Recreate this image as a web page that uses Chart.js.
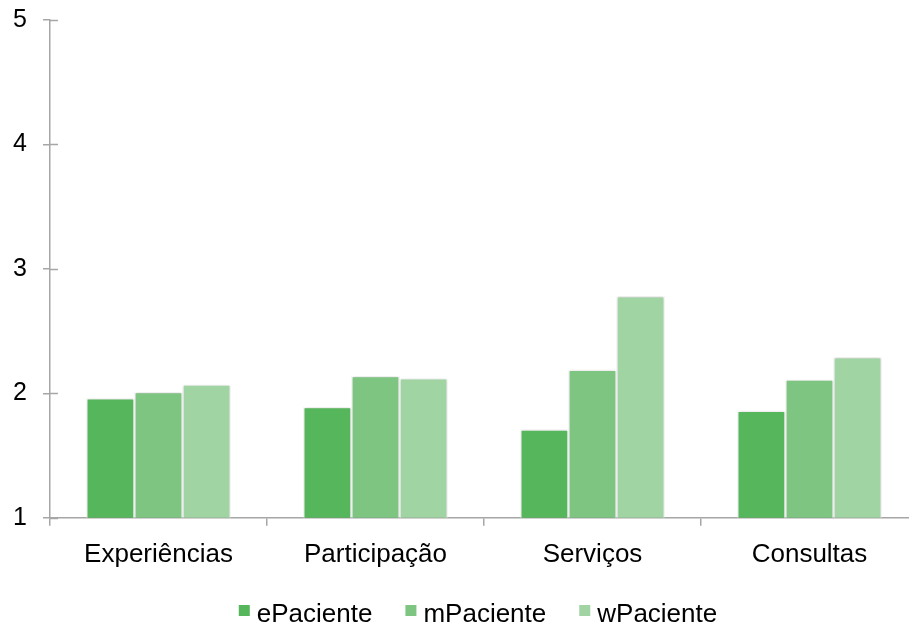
<!DOCTYPE html>
<html>
<head>
<meta charset="utf-8">
<script src="https://cdn.jsdelivr.net/npm/chart.js@4/dist/chart.umd.min.js"></script>
<style>
  html, body { margin: 0; padding: 0; background: #fff; overflow: hidden; }
  #wrap { position: relative; width: 920px; height: 635px; }
</style>
</head>
<body>
<div id="wrap"><canvas id="chart"></canvas></div>
<script>
// Mean scores per area, for each patient profile
const categories = ['Experiências', 'Participação', 'Serviços', 'Consultas'];
const seriesNames = ['ePaciente', 'mPaciente', 'wPaciente'];
const ePaciente = [1.96, 1.89, 1.71, 1.86];
const mPaciente = [2.01, 2.14, 2.19, 2.11];
const wPaciente = [2.07, 2.12, 2.78, 2.29];
const yTicks = [1, 2, 3, 4, 5];

const colors = ['#56b65b', '#7dc580', '#a0d4a2'];
const axisColor = '#a6a6a6';
const FONT = '"Liberation Sans", Arial, sans-serif';

// Soft shadow around the bars
const barShadow = {
  id: 'barShadow',
  beforeDatasetsDraw(chart) {
    const ctx = chart.ctx;
    ctx.save();
    ctx.shadowColor = 'rgba(0,0,0,0.28)';
    ctx.shadowBlur = 3;
    ctx.shadowOffsetX = 0;
    ctx.shadowOffsetY = 0;
  },
  afterDatasetsDraw(chart) {
    chart.ctx.restore();
  }
};

// Value-axis tick marks cross the axis line: draw the inner half
const crossTicks = {
  id: 'crossTicks',
  afterDraw(chart) {
    const y = chart.scales.y;
    const ctx = chart.ctx;
    ctx.save();
    ctx.strokeStyle = axisColor;
    ctx.lineWidth = 1.5;
    y.ticks.forEach(t => {
      const py = Math.round(y.getPixelForValue(t.value)) + 0.5;
      ctx.beginPath();
      ctx.moveTo(y.right, py);
      ctx.lineTo(y.right + 8, py);
      ctx.stroke();
    });
    ctx.restore();
  }
};

// Legend row under the category labels
const legendRow = {
  id: 'legendRow',
  afterDraw(chart) {
    const ctx = chart.ctx;
    const area = chart.chartArea;
    ctx.save();
    ctx.font = '26px ' + FONT;
    ctx.textBaseline = 'middle';
    const box = 11, gapBox = 7, gapItem = 33;
    const items = chart.data.datasets.map(ds => ({
      label: ds.label, color: ds.backgroundColor, w: ctx.measureText(ds.label).width
    }));
    const total = items.reduce((s, it) => s + box + gapBox + it.w, 0) + gapItem * (items.length - 1);
    let x = (area.left + area.right) / 2 - 6 - total / 2;
    const cy = 615;
    items.forEach(it => {
      ctx.fillStyle = it.color;
      ctx.fillRect(x, cy - 10, box, box);
      x += box + gapBox;
      ctx.fillStyle = '#000';
      ctx.fillText(it.label, x, cy);
      x += it.w + gapItem;
    });
    ctx.restore();
  }
};

const values = [ePaciente, mPaciente, wPaciente];

new Chart(document.getElementById('chart'), {
  type: 'bar',
  data: {
    labels: categories,
    datasets: seriesNames.map((name, i) => ({
      label: name,
      data: values[i],
      backgroundColor: colors[i],
      borderColor: '#ffffff',
      borderWidth: 1.2,
      borderSkipped: false,
      barPercentage: 1,
      categoryPercentage: 0.665
    }))
  },
  options: {
    responsive: true,
    maintainAspectRatio: false,
    animation: false,
    layout: { padding: { left: 13, right: 2, top: 20, bottom: 52 } },
    plugins: {
      legend: { display: false },
      tooltip: { enabled: false }
    },
    scales: {
      x: {
        border: { color: axisColor, width: 1.5 },
        grid: { drawOnChartArea: false, color: axisColor, lineWidth: 1.5, tickLength: 8, offset: true },
        ticks: { color: '#000', font: { family: FONT, size: 26 }, padding: 13, maxRotation: 0 }
      },
      y: {
        min: 1,
        max: 5,
        afterBuildTicks(scale) { scale.ticks = yTicks.map(v => ({ value: v })); },
        afterFit(scale) { scale.width = 37; scale.paddingTop = 0; scale.paddingBottom = 0; },
        border: { color: axisColor, width: 1.5 },
        grid: { drawOnChartArea: false, color: axisColor, lineWidth: 1.5, tickLength: 7 },
        ticks: { color: '#000', font: { family: FONT, size: 25 }, padding: 16 }
      }
    }
  },
  plugins: [barShadow, crossTicks, legendRow]
});
</script>
</body>
</html>
